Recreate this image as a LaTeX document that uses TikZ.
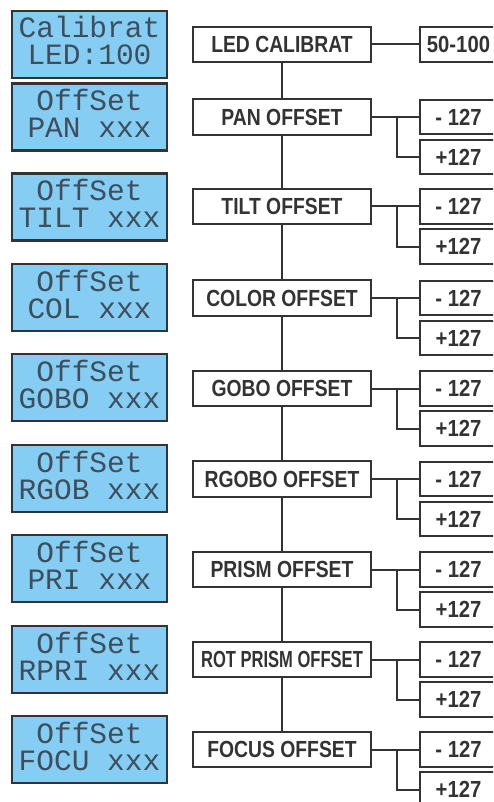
\documentclass[tikz,border=0pt]{standalone}
\usepackage{fontspec}
\setmainfont{Liberation Sans}
\newfontfamily\boxfont[FakeStretch=0.83]{Liberation Sans}
\newfontfamily\rotfont[FakeStretch=0.71]{Liberation Sans}
\newfontfamily\valfont[FakeStretch=0.87]{Liberation Sans}
\newfontfamily\lcdfont{Liberation Mono}
\definecolor{ink}{RGB}{51,51,51}
\definecolor{lcdblue}{RGB}{133,205,242}
\definecolor{lcdink}{RGB}{62,78,92}
\tikzset{
  lcd/.style={draw=ink, line width=2.3pt, fill=lcdblue, minimum width=155, minimum height=67, inner sep=0pt},
  lcdtxt/.style={inner sep=0pt, text=lcdink, font=\lcdfont\fontsize{29.5}{30}\selectfont},
  midbox/.style={draw=ink, line width=2pt, fill=white, minimum width=178, minimum height=35.5, inner sep=0pt, text=ink, font=\boxfont\bfseries\fontsize{23.3}{26}\selectfont},
  valbox/.style={draw=ink, line width=2pt, fill=white, minimum width=77, minimum height=34.5, inner sep=0pt, text=ink, font=\valfont\bfseries\fontsize{23.3}{26}\selectfont},
  conn/.style={draw=ink, line width=2pt}
}
\begin{document}
\begin{tikzpicture}[x=1pt,y=-1pt]
\useasboundingbox (0,0) rectangle (493,802);
\clip (0,0) rectangle (493,802);
\fill[white] (0,0) rectangle (493,802);
\foreach \i/\ly/\my/\la/\lb/\m in {
  1/44.5/44.5/Calibrat/LED:100/LED CALIBRAT,
  2/117/117/OffSet/PAN xxx/PAN OFFSET,
  3/207/206.5/OffSet/TILT xxx/TILT OFFSET,
  4/297.5/298/OffSet/COL xxx/COLOR OFFSET,
  5/387.5/388.5/OffSet/GOBO xxx/GOBO OFFSET,
  6/478.5/479/OffSet/RGOB xxx/RGOBO OFFSET,
  7/568.5/569.5/OffSet/PRI xxx/PRISM OFFSET,
  8/659.5/659.5/OffSet/RPRI xxx/{\rotfont ROT PRISM OFFSET},
  9/749.5/749.5/OffSet/FOCU xxx/FOCUS OFFSET}
{
  \node[lcd] (lcd\i) at (89.5,\ly) {};
  \node[lcdtxt, anchor=base] (lcd\i a) at (89.5,\ly-6.5) {\la};
  \node[lcdtxt, anchor=base] (lcd\i b) at (89.5,\ly+20.5) {\lb};
  \node[midbox] (m\i) at (282,\my) {\m};
}
% value boxes
\node[valbox] (v1) at (458.5,44.5) {50-100};
\foreach \i/\my in {2/117,3/206.5,4/298,5/388.5,6/479,7/569.5,8/659.5,9/749.5}
{
  \node[valbox] (n\i) at (458.5,\my) {- 127};
  \node[valbox] (p\i) at (458.5,\my+40) {+127};
  \draw[conn] (m\i.east) -- (n\i.west);
  \draw[conn] ([xshift=25pt]m\i.east) |- (p\i.west);
}
\draw[conn] (m1.east) -- (v1.west);
\foreach \i/\j in {1/2,2/3,3/4,4/5,5/6,6/7,7/8,8/9}
  \draw[conn] (m\i.south) -- (m\j.north);
\end{tikzpicture}
\end{document}
